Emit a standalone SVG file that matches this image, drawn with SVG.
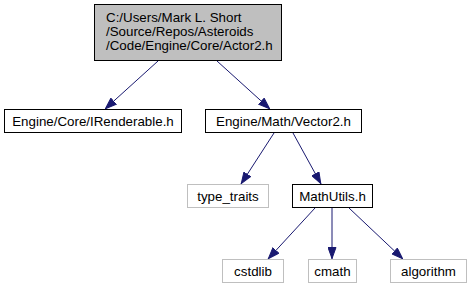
<svg xmlns="http://www.w3.org/2000/svg" width="471" height="291" viewBox="0 0 471 291">
  <style>
    .box { fill: #ffffff; stroke: #000000; stroke-width: 1; }
    .root { fill: #bfbfbf; stroke: #000000; stroke-width: 1; }
    .ext { fill: #ffffff; stroke: #bfbfbf; stroke-width: 1; }
    .lbl { font-family: "Liberation Sans", Arial, sans-serif; font-size: 13.33px; fill: #000000; }
    .mid { text-anchor: middle; }
    .edge { stroke: #191970; stroke-width: 1; fill: none; }
    .head { fill: #191970; stroke: #191970; stroke-width: 1; }
  </style>
  <defs>
    <marker id="arrow" viewBox="0 0 12 9" refX="12" refY="4.5" markerWidth="12" markerHeight="9" markerUnits="userSpaceOnUse" orient="auto">
      <path class="head" d="M0.5,0.5 L11.5,4.5 L0.5,8.5 Z"/>
    </marker>
  </defs>
  <rect width="471" height="291" fill="#ffffff"/>

  <g id="edges">
    <path class="edge" marker-end="url(#arrow)" d="M158,61 L105,109"/>
    <path class="edge" marker-end="url(#arrow)" d="M217,61 L270,109"/>
    <path class="edge" marker-end="url(#arrow)" d="M274,133 L241,184"/>
    <path class="edge" marker-end="url(#arrow)" d="M293,133 L321,184"/>
    <path class="edge" marker-end="url(#arrow)" d="M315,208 L268,259"/>
    <path class="edge" marker-end="url(#arrow)" d="M332,208 L332,259"/>
    <path class="edge" marker-end="url(#arrow)" d="M349,208 L403,259"/>
  </g>

  <g id="node-actor2">
    <rect class="root" x="94.5" y="4.5" width="187" height="56"/>
    <text class="lbl" x="106" y="22">C:/Users/Mark L. Short</text>
    <text class="lbl" x="106" y="36">/Source/Repos/Asteroids</text>
    <text class="lbl" x="106" y="50">/Code/Engine/Core/Actor2.h</text>
  </g>

  <g id="node-irenderable">
    <rect class="box" x="4.5" y="109.5" width="177" height="23"/>
    <text class="lbl mid" x="93" y="125.5">Engine/Core/IRenderable.h</text>
  </g>

  <g id="node-vector2">
    <rect class="box" x="205.5" y="109.5" width="156" height="23"/>
    <text class="lbl mid" x="283.5" y="125.5">Engine/Math/Vector2.h</text>
  </g>

  <g id="node-type-traits">
    <rect class="ext" x="187.5" y="184.5" width="81" height="23"/>
    <text class="lbl mid" x="228" y="200.5">type_traits</text>
  </g>

  <g id="node-mathutils">
    <rect class="box" x="292.5" y="184.5" width="80" height="23"/>
    <text class="lbl mid" x="332.5" y="200.5">MathUtils.h</text>
  </g>

  <g id="node-cstdlib">
    <rect class="ext" x="222.5" y="259.5" width="61" height="23"/>
    <text class="lbl mid" x="253" y="275.5">cstdlib</text>
  </g>

  <g id="node-cmath">
    <rect class="ext" x="308.5" y="259.5" width="48" height="23"/>
    <text class="lbl mid" x="332.5" y="275.5">cmath</text>
  </g>

  <g id="node-algorithm">
    <rect class="ext" x="390.5" y="259.5" width="76" height="23"/>
    <text class="lbl mid" x="428.5" y="275.5">algorithm</text>
  </g>
</svg>
